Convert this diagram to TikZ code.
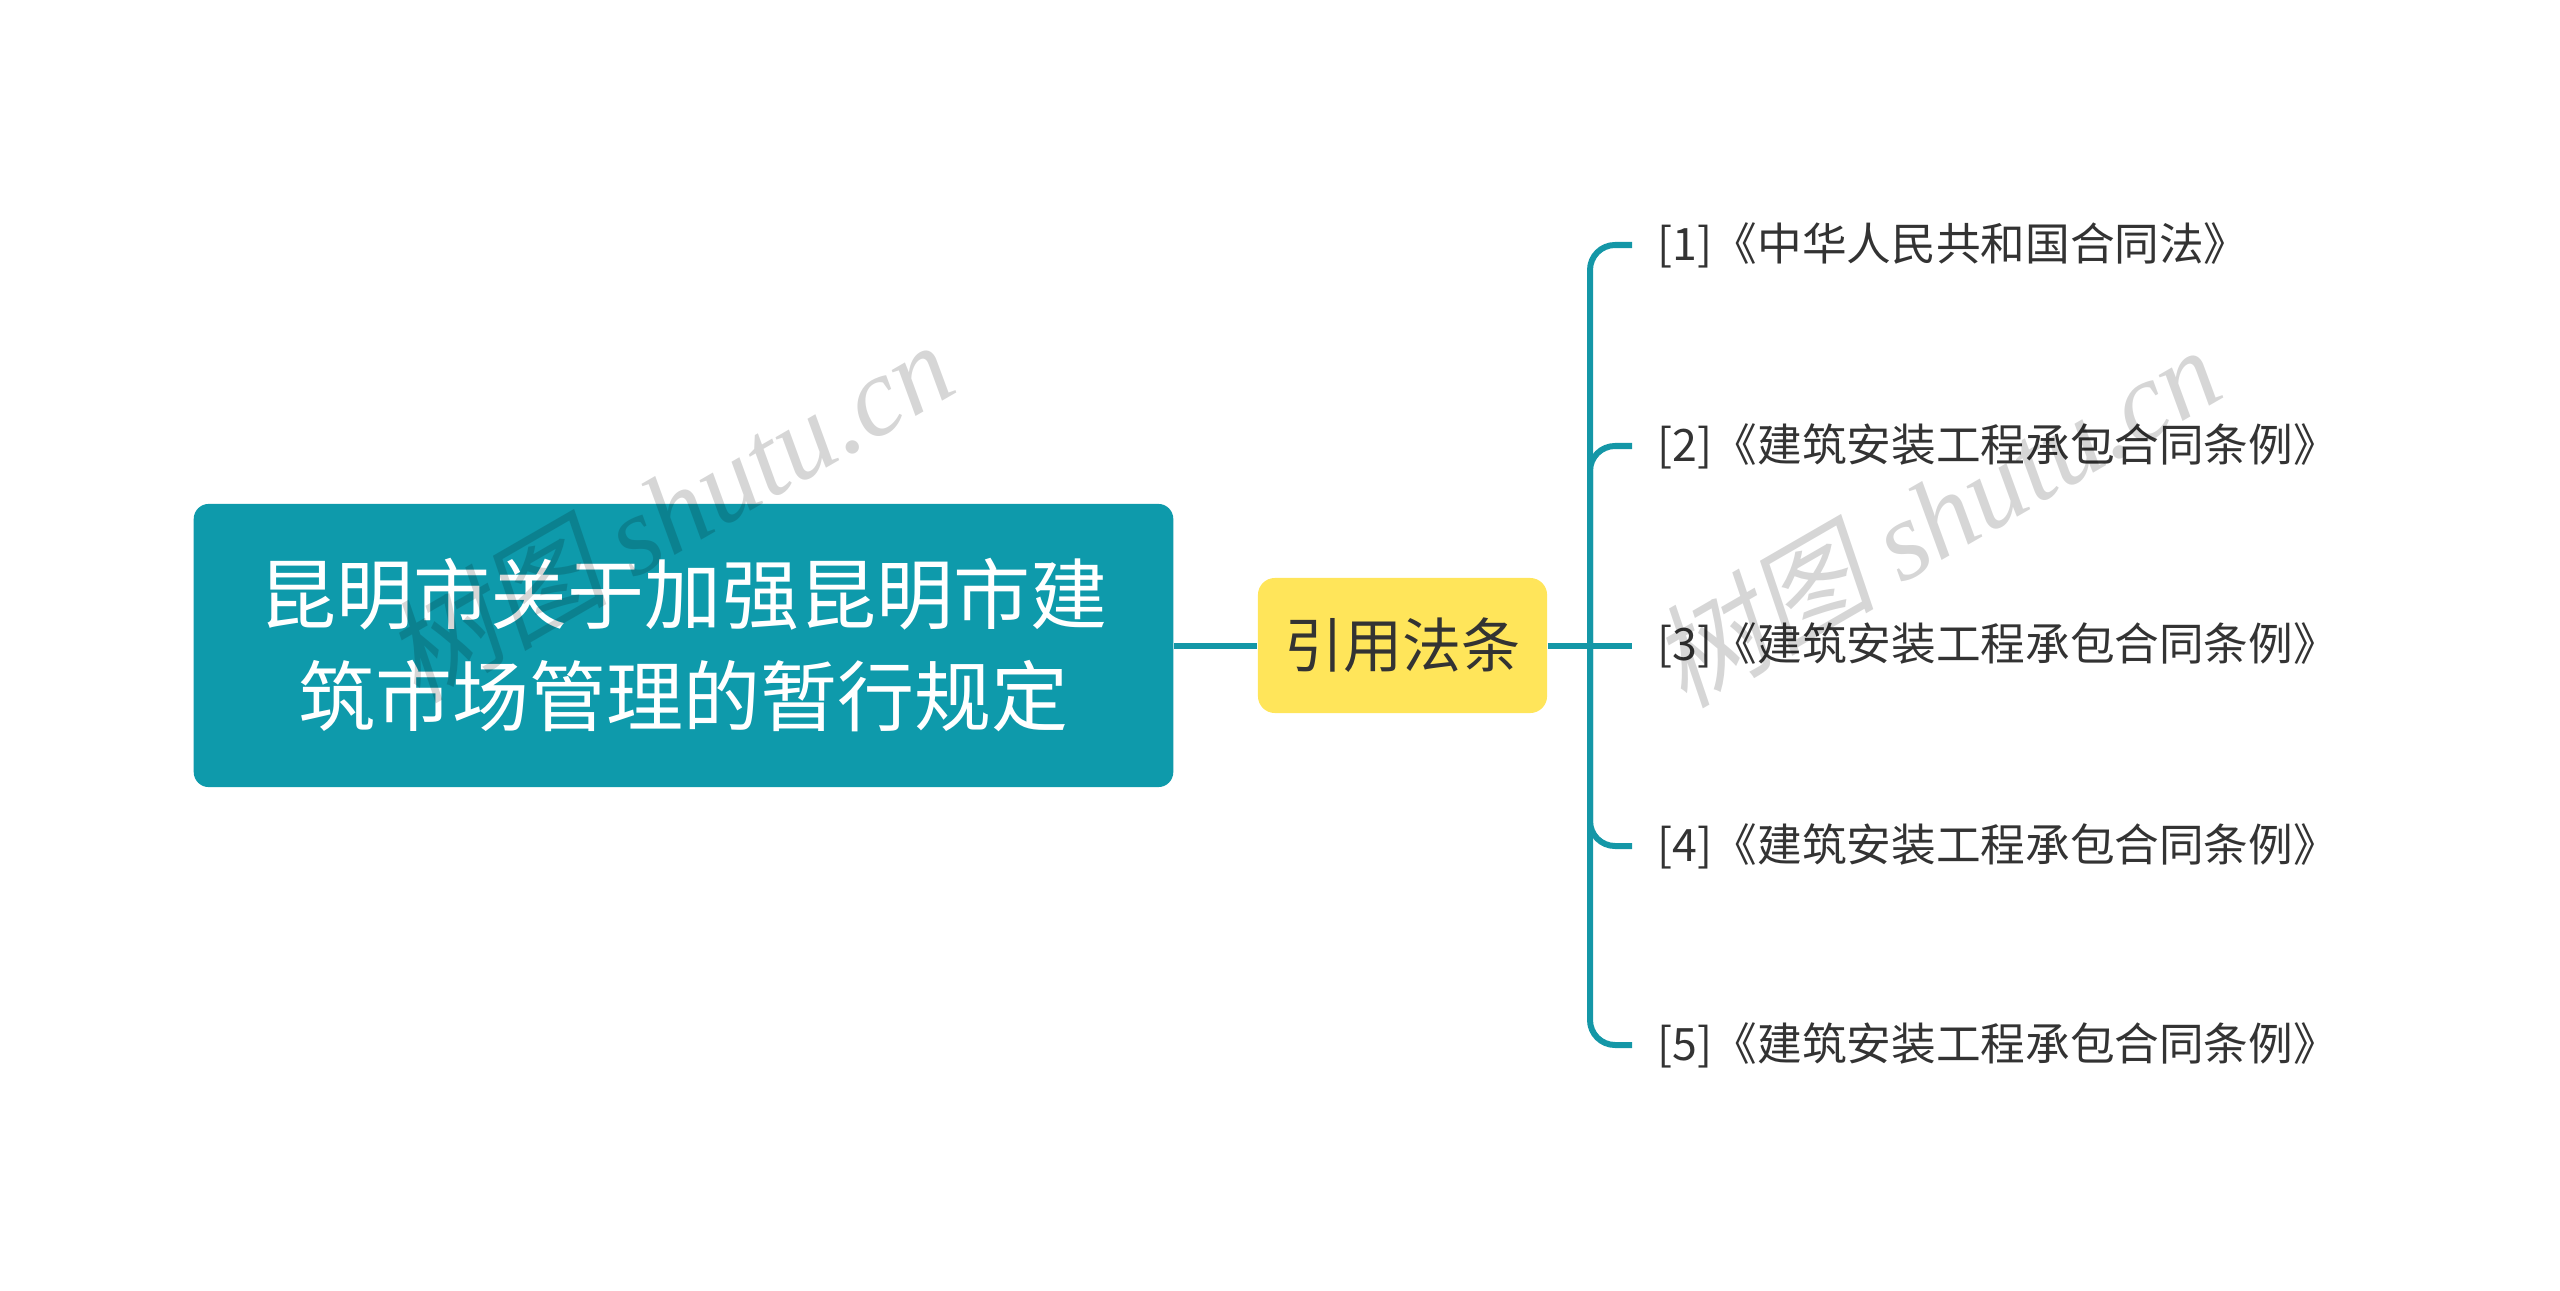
\documentclass[tikz,border=0pt]{standalone}
\usepackage{fontspec}
\setmainfont{Noto Sans CJK SC}
\newfontfamily\wmcjk[FakeSlant=0.2]{Noto Sans CJK SC}
\newfontfamily\wmserif{Liberation Serif}
\definecolor{tealmain}{HTML}{0E9AAB}
\definecolor{tealline}{HTML}{1497A7}
\definecolor{yellowbox}{HTML}{FFE55A}
\definecolor{leaftext}{HTML}{333333}
\tikzset{
  mainbox/.style={draw=none, fill=tealmain, text=white, rounded corners=0.15cm,
    minimum width=9.79cm, minimum height=2.83cm, align=center, inner sep=0pt,
    font=\fontsize{21.9}{29}\selectfont},
  subbox/.style={draw=none, fill=yellowbox, text=leaftext, rounded corners=0.17cm,
    minimum width=2.89cm, minimum height=1.35cm, inner sep=0pt,
    font=\fontsize{16.8}{20}\selectfont},
  leaf/.style={anchor=west, inner xsep=0.25cm, inner ysep=0pt, text=leaftext,
    font=\fontsize{12.7}{15}\selectfont},
  conn/.style={draw=tealline, line width=0.06cm, rounded corners=0.25cm},
  wm/.style={text=black, text opacity=0.16, inner sep=0pt,
    font=\fontsize{32}{36}\selectfont}
}
\begin{document}
\begin{tikzpicture}[x=0.01cm, y=-0.01cm]
\useasboundingbox (0,0) rectangle (2560,1291);
\node[mainbox] (main) at (683.5,645.5) {昆明市关于加强昆明市建\\筑市场管理的暂行规定};
\node[subbox] (sub) at (1402.5,645.5) {引用法条};
\coordinate (tr) at (1590,645.5);
\node[leaf] (l1) at (1632,245) {[1]《中华人民共和国合同法》};
\node[leaf] (l2) at (1632,446) {[2]《建筑安装工程承包合同条例》};
\node[leaf] (l3) at (1632,645.5) {[3]《建筑安装工程承包合同条例》};
\node[leaf] (l4) at (1632,846) {[4]《建筑安装工程承包合同条例》};
\node[leaf] (l5) at (1632,1045) {[5]《建筑安装工程承包合同条例》};
\draw[conn] (main.east) -- (sub.west);
\draw[conn] (sub.east) -- (tr) -- (l3.west);
\draw[conn] (tr) |- (l1.west);
\draw[conn] (tr) |- (l2.west);
\draw[conn] (tr) |- (l4.west);
\draw[conn] (tr) |- (l5.west);
\node[wm, rotate=30] (wm1) at (668,510) {{\wmcjk 树图} {\wmserif\itshape shutu.cn}};
\node[wm, rotate=30] (wm2) at (1935,515) {{\wmcjk 树图} {\wmserif\itshape shutu.cn}};
\end{tikzpicture}
\end{document}
